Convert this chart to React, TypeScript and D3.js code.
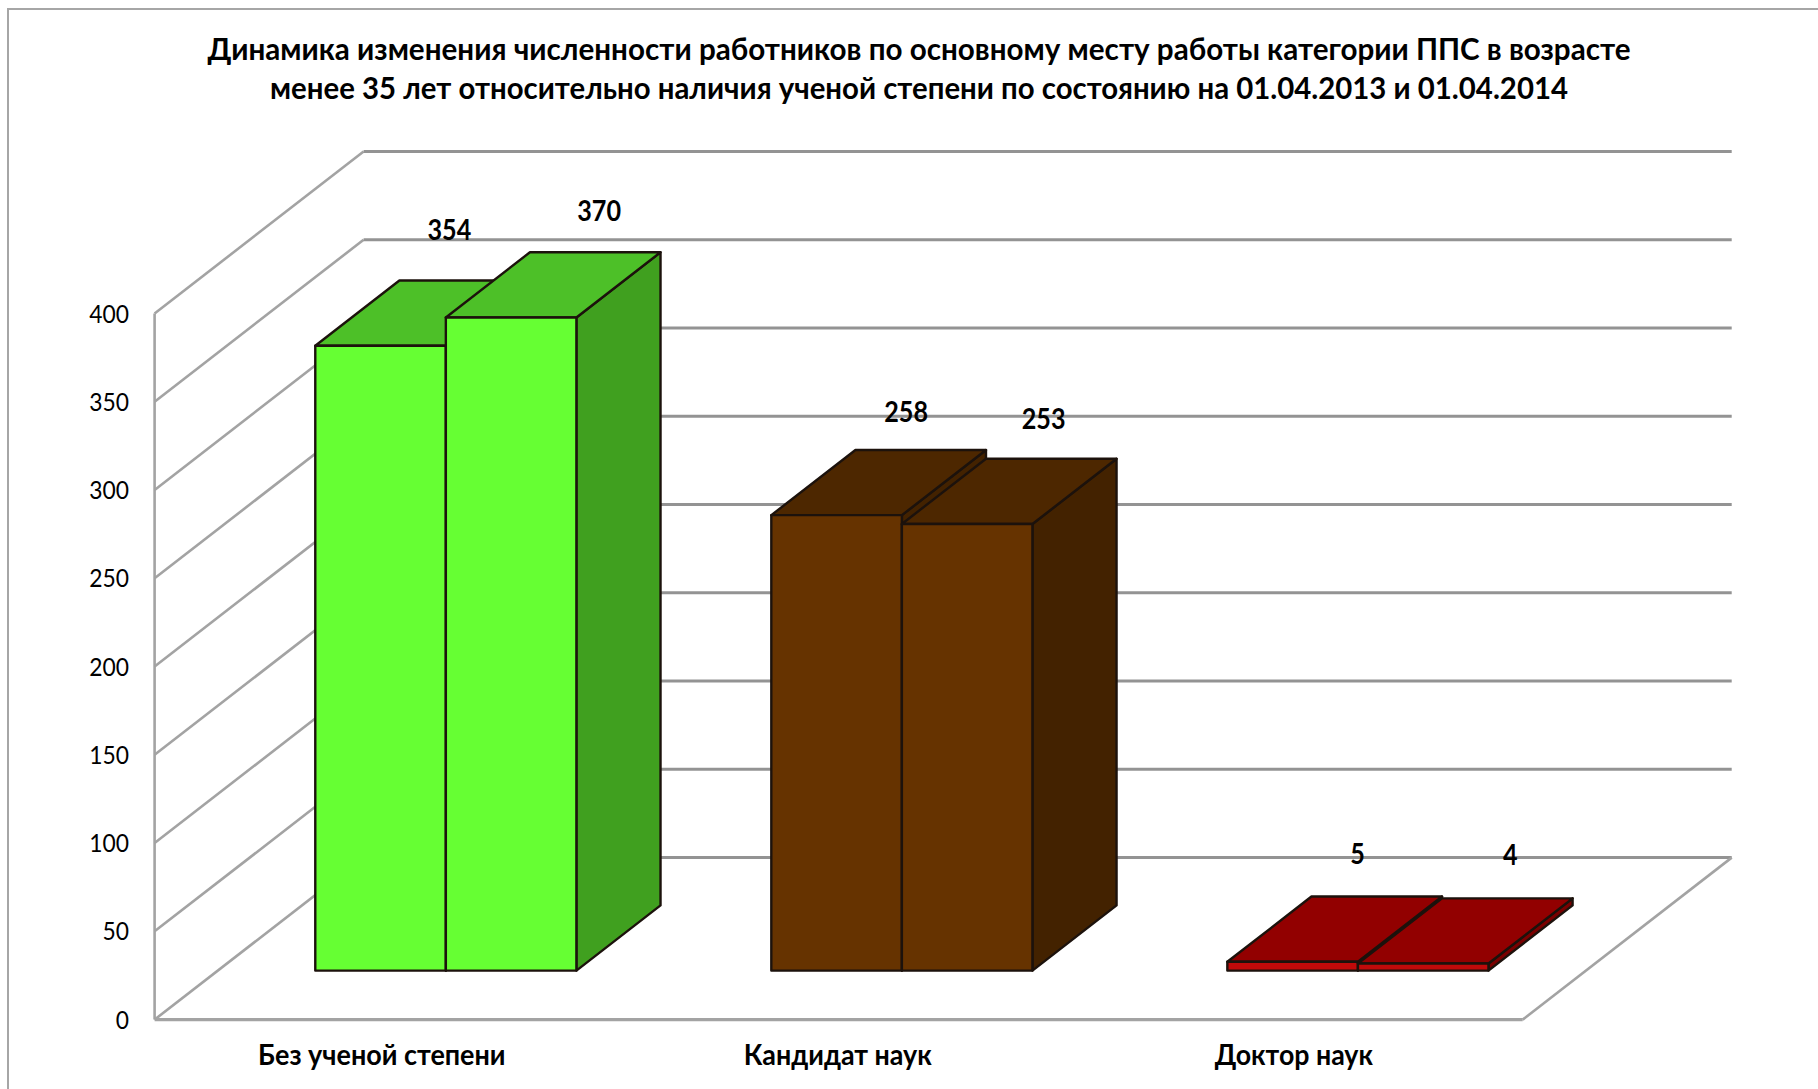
import React from "react";
import * as d3 from "d3";

const titleLines = [
  "Динамика изменения численности работников по основному месту работы категории ППС в возрасте",
  "менее 35 лет относительно наличия ученой степени по состоянию на 01.04.2013 и 01.04.2014",
];
const categories = ["Без ученой степени", "Кандидат наук", "Доктор наук"];
const values2013 = [354, 258, 5];
const values2014 = [370, 253, 4];
const yTicks = [0, 50, 100, 150, 200, 250, 300, 350, 400];

const frontColors = ["#66FF33", "#663300", "#C00A0A"];
const topColors = ["#4DC028", "#4D2700", "#920000"];
const sideColors = ["#40A01F", "#432200", "#7A0000"];

// label placement (dx, dy from the front top centre of each bar)
const labelNudge2013: [number, number][] = [[68.8, -106], [69.5, -93.5], [65, -99]];
const labelNudge2014: [number, number][] = [[88, -97.6], [76.5, -96], [87, -99.4]];

const W = 1818;
const H = 1089;
const FONT = "Lato, Carlito, sans-serif";

const wallX0 = 154.6;
const wallX1 = 1522.7;
const depthX = 209;
const depthY = 162;
const yFront = d3.scaleLinear().domain([0, 400]).range([1019.6, 313.5]);
const xCat = d3.scaleBand<string>().domain(categories).range([wallX0, wallX1]);
const xSeries = d3
  .scaleBand<string>()
  .domain(["2013", "2014"])
  .range([xCat.bandwidth() * 0.2137, xCat.bandwidth() * 0.7863]);

// depth fraction: 0 = front wall plane, 1 = back wall plane
const barNear = 0.3025;
const barFar = 0.705;
const proj = (x: number, v: number, d: number): [number, number] => [x + d * depthX, yFront(v) - d * depthY];
const line = d3.line<[number, number]>();
const closed = (pts: [number, number][]) => line(pts)! + "Z";

const GRID = "#939393";
const DIAG = "#a3a3a3";

function Bar({ x, w, v, i }: { x: number; w: number; v: number; i: number }) {
  const stroke = "#1c120c";
  const a = proj(x, v, barNear);
  const b = proj(x + w, v, barNear);
  const c = proj(x + w, v, barFar);
  const d = proj(x, v, barFar);
  const a0 = proj(x, 0, barNear);
  const b0 = proj(x + w, 0, barNear);
  const c0 = proj(x + w, 0, barFar);
  return (
    <g stroke={stroke} strokeWidth={2.4} strokeLinejoin="round">
      <path d={closed([b, c, c0, b0])} fill={sideColors[i]} />
      <path d={closed([a, b, c, d])} fill={topColors[i]} />
      <path d={closed([a, b, b0, a0])} fill={frontColors[i]} />
    </g>
  );
}

export default function App() {
  const seriesList = [
    { key: "2013", values: values2013, nudge: labelNudge2013 },
    { key: "2014", values: values2014, nudge: labelNudge2014 },
  ];
  const fitTick = (t: number) => String(t).length * 13.25;
  return (
    <svg
      width={W}
      height={H}
      viewBox={`0 0 ${W} ${H}`}
      style={{ position: "absolute", left: 0, top: 0, display: "block", background: "#fff" }}
    >
      <rect x={8} y={9} width={W + 20} height={H + 20} fill="#fff" stroke="#a6a6a6" strokeWidth={2} />

      {titleLines.map((t, i) => (
        <text
          key={t}
          x={919}
          y={59.5 + i * 39.5}
          textAnchor="middle"
          fontFamily={FONT}
          fontWeight={700}
          fontSize={30}
          fill="#000"
          textLength={i === 0 ? 1423 : 1298}
          lengthAdjust="spacingAndGlyphs"
        >
          {t}
        </text>
      ))}

      <path
        d={line([[wallX0, yFront(0)], [wallX0, yFront(400)]])!}
        stroke={DIAG}
        strokeWidth={2.6}
        fill="none"
      />
      {yTicks.map((t) => (
        <g key={t} fill="none">
          <path d={line([proj(wallX0, t, 0), proj(wallX0, t, 1)])!} stroke={DIAG} strokeWidth={2.6} />
          <path d={line([proj(wallX0, t, 1), proj(wallX1, t, 1)])!} stroke={GRID} strokeWidth={3} />
        </g>
      ))}
      <path d={line([proj(wallX0, 0, 0), proj(wallX1, 0, 0)])!} stroke={DIAG} strokeWidth={3.4} fill="none" />
      <path d={line([proj(wallX1, 0, 0), proj(wallX1, 0, 1)])!} stroke={DIAG} strokeWidth={2.6} fill="none" />

      {yTicks.map((t) => (
        <text
          key={t}
          x={129}
          y={yFront(t) + 9}
          textAnchor="end"
          fontFamily={FONT}
          fontSize={24.5}
          fill="#000"
          textLength={fitTick(t)}
          lengthAdjust="spacingAndGlyphs"
        >
          {t}
        </text>
      ))}

      {categories.map((c, i) => {
        const x0 = xCat(c)!;
        return (
          <g key={c}>
            {seriesList.map((s) => (
              <Bar key={s.key} x={x0 + xSeries(s.key)!} w={xSeries.bandwidth()} v={s.values[i]} i={i} />
            ))}
          </g>
        );
      })}

      {categories.map((c, i) =>
        seriesList.map((s) => {
          const fx = xCat(c)! + xSeries(s.key)! + xSeries.bandwidth() / 2;
          const [px, py] = proj(fx, s.values[i], barNear);
          return (
            <text
              key={c + s.key}
              x={px + s.nudge[i][0]}
              y={py + s.nudge[i][1] + 0.8}
              textAnchor="middle"
              fontFamily={FONT}
              fontWeight={700}
              fontSize={28.5}
              fill="#000"
              textLength={String(s.values[i]).length * 14.6}
              lengthAdjust="spacingAndGlyphs"
            >
              {s.values[i]}
            </text>
          );
        })
      )}

      {categories.map((c, i) => (
        <text
          key={c}
          x={xCat(c)! + xCat.bandwidth() / 2 - 0.8}
          y={1065}
          textAnchor="middle"
          fontFamily={FONT}
          fontWeight={700}
          fontSize={28.5}
          fill="#000"
          textLength={[247.5, 188, 158.3][i]}
          lengthAdjust="spacingAndGlyphs"
        >
          {c}
        </text>
      ))}
    </svg>
  );
}
